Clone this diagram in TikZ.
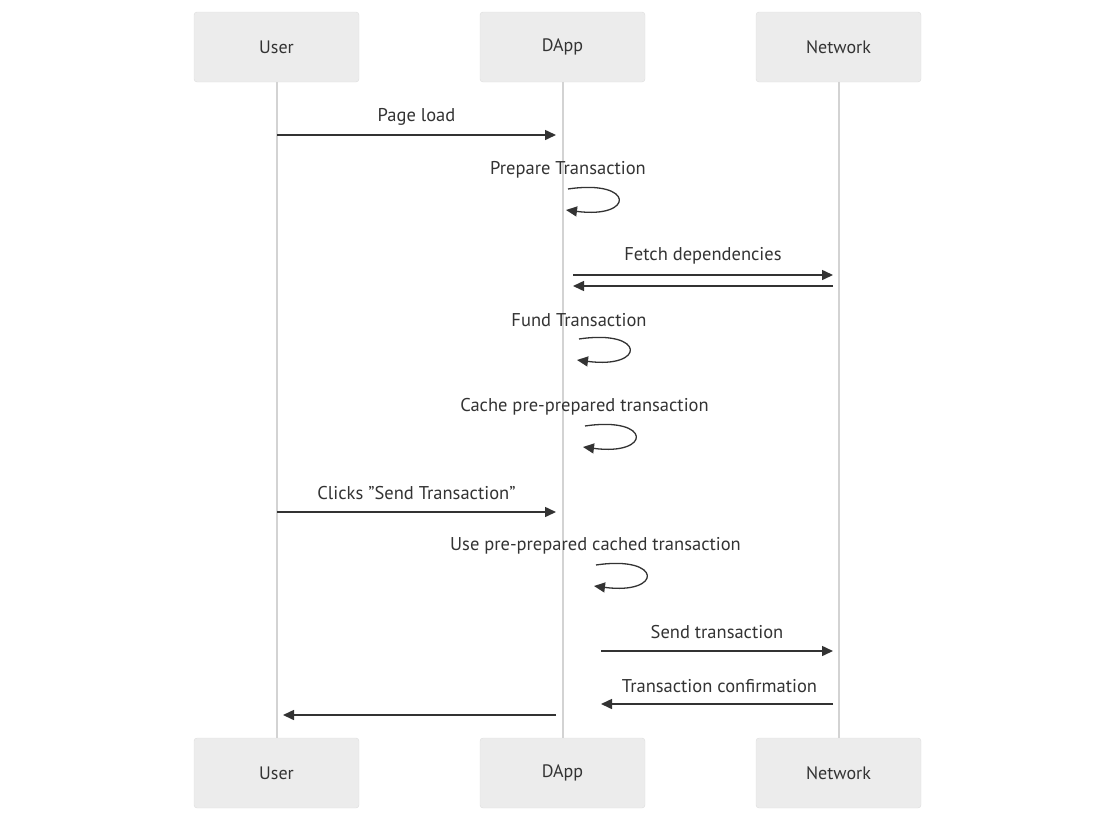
\documentclass[tikz,border=0pt]{standalone}
\usepackage{fontspec}
\setmainfont{PT Sans}
\usetikzlibrary{arrows.meta}
\definecolor{boxfill}{HTML}{ECECEC}
\definecolor{boxline}{HTML}{DEDEDE}
\definecolor{lifegray}{HTML}{D3D3D3}
\definecolor{ink}{HTML}{333333}

\begin{document}
\begin{tikzpicture}[x=1pt,y=-1pt,
	actor/.style={draw=boxline,fill=boxfill,rounded corners=3pt,minimum width=165pt,minimum height=70pt,font=\fontsize{18}{20}\selectfont,text=ink},
	lbl/.style={font=\fontsize{18.5}{20}\selectfont,text=ink,inner sep=0pt},
	life/.style={draw=lifegray,line width=2pt},
	msg/.style={draw=ink,line width=1.5pt,-{Triangle[length=11pt,width=10pt]}},
	selfmsg/.style={draw=ink,line width=1.3pt,-{Triangle[length=11pt,width=10pt]}}]
\useasboundingbox (0,0) rectangle (1116,822);
% actors, top and bottom
\node[actor] (userT) at (276.5, 47) {User};
\node[actor] (dappT) at (562.5, 47) {DApp};
\node[actor] (netT) at (838.5, 47) {Network};
\node[actor] (userB) at (276.5, 773) {User};
\node[actor] (dappB) at (562.5, 773) {DApp};
\node[actor] (netB) at (838.5, 773) {Network};
\draw[life] (userT) to (userB);
\draw[life] (dappT) to (dappB);
\draw[life] (netT) to (netB);
% points on the lifelines
\coordinate (u1) at (277, 135);
\coordinate (d1) at (556, 135);
\coordinate (d2) at (573, 275);
\coordinate (n2) at (833, 275);
\coordinate (n3) at (833, 286);
\coordinate (d3) at (573, 286);
\coordinate (u6) at (277, 512);
\coordinate (d6) at (556, 512);
\coordinate (d8) at (601, 651);
\coordinate (n8) at (833, 651);
\coordinate (n9) at (833, 704);
\coordinate (d9) at (601, 704);
\coordinate (d10) at (556, 715);
\coordinate (u10) at (283, 715);
% labels
\node[lbl] (pageload) at (416.5, 117) {Page load};
\node[lbl] (prepare) at (568, 170) {Prepare Transaction};
\node[lbl] (fetch) at (703, 256) {Fetch dependencies};
\node[lbl] (fund) at (579, 320) {Fund Transaction};
\node[lbl] (cache) at (584.5, 407) {Cache pre-prepared transaction};
\node[lbl] (clicks) at (416.5, 493) {Clicks \symbol{34}Send Transaction\symbol{34}};
\node[lbl] (usecache) at (595.5, 546) {Use pre-prepared cached transaction};
\node[lbl] (sendtx) at (717, 632) {Send transaction};
\node[lbl] (confirm) at (719.5, 686) {Transaction confirmation};
% messages
\draw[msg] (u1) to (d1);
\draw[selfmsg] (568, 189) .. controls (635, 179) and (635, 219) .. (566, 210);
\draw[msg] (d2) to (n2);
\draw[msg] (n3) to (d3);
\draw[selfmsg] (579, 339) .. controls (646, 329) and (646, 369) .. (577, 360);
\draw[selfmsg] (585, 426) .. controls (652, 416) and (652, 456) .. (583, 447);
\draw[msg] (u6) to (d6);
\draw[selfmsg] (596, 565) .. controls (663, 555) and (663, 595) .. (594, 586);
\draw[msg] (d8) to (n8);
\draw[msg] (n9) to (d9);
\draw[msg] (d10) to (u10);
\end{tikzpicture}
\end{document}
